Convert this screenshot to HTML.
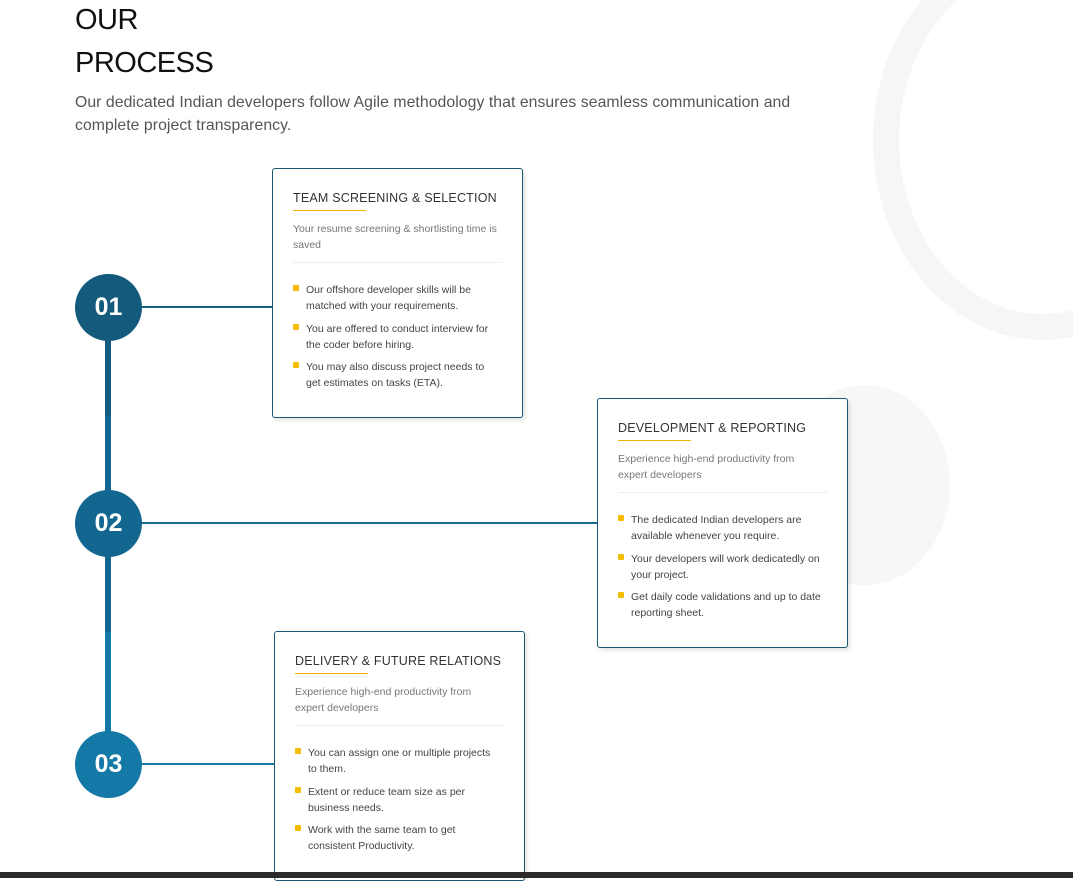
<!DOCTYPE html>
<html><head><meta charset="utf-8"><style>
*{margin:0;padding:0;box-sizing:border-box}
body{width:1073px;height:878px;overflow:hidden;background:#fff;font-family:"Liberation Sans",Arial,sans-serif;position:relative}
.h1{position:absolute;left:75px;top:-1px;font-size:29px;line-height:43px;color:#111;letter-spacing:-0.5px}
.lead{position:absolute;left:75px;top:91px;font-size:15.8px;line-height:23px;color:#555;width:740px;letter-spacing:0.05px}
.ring{position:absolute;border-radius:50%}
.vl{position:absolute;left:105px;width:6px}
.hl{position:absolute;height:2px}
.c{position:absolute;width:67px;height:67px;border-radius:50%;color:#fff;font-size:25px;font-weight:bold;display:flex;align-items:center;justify-content:center;left:75px}
.card{position:absolute;width:251px;height:250px;border:1px solid #1e5775;border-radius:3px;background:#fff;box-shadow:2px 2px 4px rgba(0,0,0,.12);padding:22px 20px 0 20px}
.t{font-size:12.5px;color:#333;letter-spacing:.2px;padding-bottom:6px;position:relative;white-space:nowrap}
.t:after{content:"";position:absolute;left:0;bottom:0;width:73px;height:1px;background:#f0b400}
.s{font-size:10.5px;line-height:16px;color:#777;margin-top:10px;padding-bottom:9px;border-bottom:1px solid #eee;width:209px}
ul{list-style:none;margin-top:19px;width:203px}
li{position:relative;padding-left:13px;font-size:10.5px;line-height:16px;color:#444;margin-bottom:6.5px}
li:before{content:"";position:absolute;left:0;top:3px;width:6px;height:6px;border-radius:1px;background:#f5bd00}
.bar{position:absolute;left:0;top:872px;width:1073px;height:6px;background:#2b2b2b}
</style></head><body>
<div class="ring" style="left:873px;top:-60px;width:340px;height:400px;border:26px solid #f6f6f6"></div>
<div class="ring" style="left:780px;top:385px;width:170px;height:200px;background:#f7f7f7"></div>
<div class="h1">OUR<br>PROCESS</div>
<div class="lead">Our dedicated Indian developers follow Agile methodology that ensures seamless communication and complete project transparency.</div>

<div class="vl" style="top:330px;height:86px;background:#135a7c"></div>
<div class="vl" style="top:416px;height:216px;background:#13668f"></div>
<div class="vl" style="top:632px;height:110px;background:#1479a6"></div>
<div class="hl" style="left:130px;width:143px;top:306px;background:#1a5f80"></div>
<div class="hl" style="left:130px;width:468px;top:522px;background:#186c93"></div>
<div class="hl" style="left:130px;width:145px;top:763px;background:#187aa6"></div>
<div class="c" style="top:274px;background:#135a7c">01</div>
<div class="c" style="top:490px;background:#13668f">02</div>
<div class="c" style="top:731px;background:#1479a6">03</div>

<div class="card" style="left:272px;top:168px">
<div class="t">TEAM SCREENING &amp; SELECTION</div>
<div class="s">Your resume screening &amp; shortlisting time is saved</div>
<ul><li>Our offshore developer skills will be matched with your requirements.</li>
<li>You are offered to conduct interview for the coder before hiring.</li>
<li>You may also discuss project needs to get estimates on tasks (ETA).</li></ul>
</div>
<div class="card" style="left:597px;top:398px">
<div class="t">DEVELOPMENT &amp; REPORTING</div>
<div class="s">Experience high-end productivity from<br>expert developers</div>
<ul><li>The dedicated Indian developers are available whenever you require.</li>
<li>Your developers will work dedicatedly on your project.</li>
<li>Get daily code validations and up to date reporting sheet.</li></ul>
</div>
<div class="card" style="left:274px;top:631px">
<div class="t">DELIVERY &amp; FUTURE RELATIONS</div>
<div class="s">Experience high-end productivity from<br>expert developers</div>
<ul><li>You can assign one or multiple projects<br>to them.</li>
<li>Extent or reduce team size as per business needs.</li>
<li>Work with the same team to get consistent Productivity.</li></ul>
</div>
<div class="bar"></div>
</body></html>
